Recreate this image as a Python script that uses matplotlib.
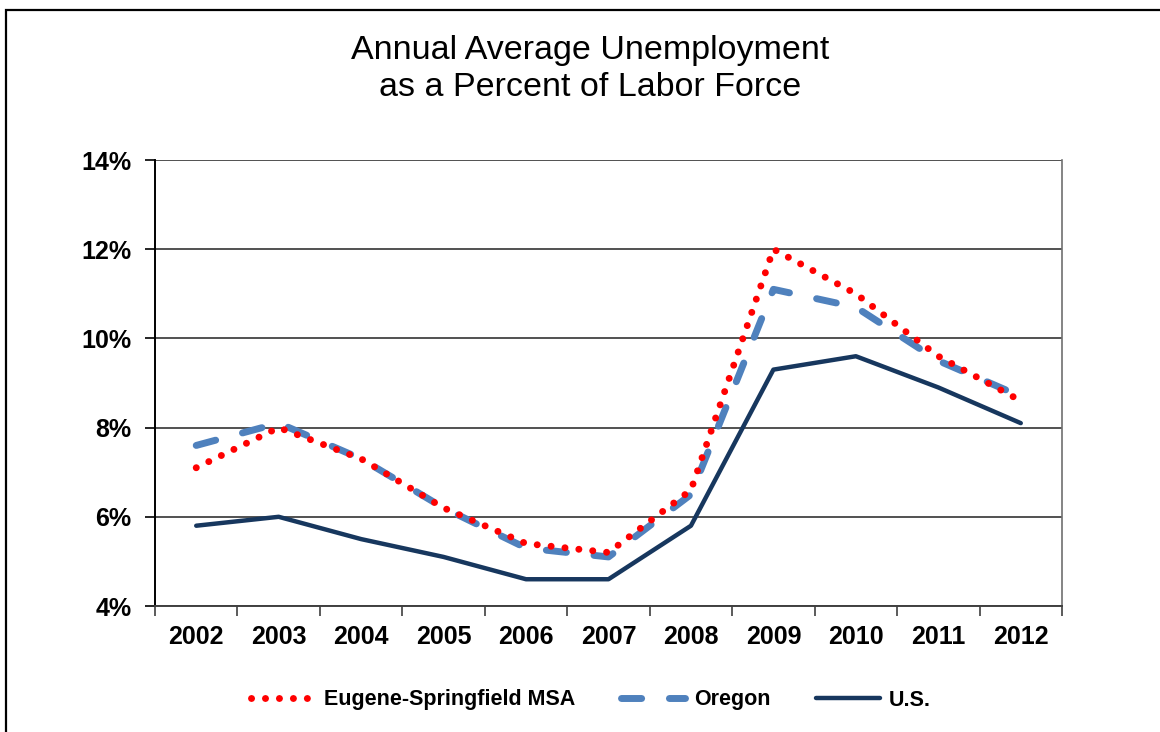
import matplotlib
matplotlib.use("Agg")
import matplotlib.pyplot as plt
from matplotlib.ticker import FixedLocator, NullFormatter, FixedFormatter
from matplotlib.patches import Rectangle

years = ["2002", "2003", "2004", "2005", "2006", "2007", "2008", "2009", "2010", "2011", "2012"]
eugene = [7.1, 8.0, 7.3, 6.2, 5.4, 5.2, 6.6, 12.0, 11.0, 9.6, 8.6]
oregon = [7.6, 8.1, 7.3, 6.2, 5.3, 5.1, 6.5, 11.1, 10.7, 9.5, 8.7]
us = [5.8, 6.0, 5.5, 5.1, 4.6, 4.6, 5.8, 9.3, 9.6, 8.9, 8.1]
yticks = [4, 6, 8, 10, 12, 14]

plt.rcParams['font.family'] = ['Liberation Sans', 'DejaVu Sans']

fig = plt.figure(figsize=(11.6, 7.32), dpi=100)
# outer chart border (only left & top visible in reference)
fig.patches.append(Rectangle((6/1160, -0.1), 1.2, 1 - 10/732 + 0.1, transform=fig.transFigure,
                             fill=False, edgecolor='black', linewidth=1.6))

ax = fig.add_axes([155/1160, 1 - 606/732, (1062 - 155)/1160, (606 - 160)/732])
x = list(range(len(years)))

l_us, = ax.plot(x, us, color='#17375E', linewidth=3.2, solid_capstyle='round',
                solid_joinstyle='round', zorder=3, label='U.S.')
l_or, = ax.plot(x, oregon, color='#4F81BD', linewidth=5.0, dashes=(2.9, 4.0),
                dash_capstyle='round', zorder=4, label='Oregon')
l_eu, = ax.plot(x, eugene, color='#FF0000', linewidth=5.0, dashes=(0.01, 2.0),
                dash_capstyle='round', zorder=5, label='Eugene-Springfield MSA')

ax.set_xlim(-0.5, len(years) - 0.5)
ax.set_ylim(4, 14)
ax.xaxis.set_major_locator(FixedLocator([i - 0.5 for i in range(len(years) + 1)]))
ax.xaxis.set_major_formatter(NullFormatter())
ax.xaxis.set_minor_locator(FixedLocator(x))
ax.xaxis.set_minor_formatter(FixedFormatter(years))
ax.tick_params(axis='x', which='major', direction='out', length=7, width=1.2, color='#404040')
ax.tick_params(axis='x', which='minor', length=0, pad=14, labelsize=18)
for t in ax.get_xticklabels(minor=True):
    t.set_fontweight('bold')

ax.set_yticks(yticks)
ax.set_yticklabels([f"{v}%" for v in yticks], fontsize=18, fontweight='bold')
ax.tick_params(axis='y', direction='out', length=7, width=1.2, color='black', pad=10)

ax.grid(axis='y', color='#333333', linewidth=1.2, zorder=1)
ax.set_axisbelow(True)
ax.spines['top'].set_visible(False)
ax.spines['right'].set_color('#707070')
ax.spines['right'].set_linewidth(1.2)
ax.spines['left'].set_color('black')
ax.spines['left'].set_linewidth(1.4)
ax.spines['bottom'].set_color('#404040')
ax.spines['bottom'].set_linewidth(1.4)

fig.text(590/1160, 1 - 69/732, "Annual Average Unemployment\nas a Percent of Labor Force",
         ha='center', va='center', fontsize=24.5, linespacing=1.22)

leg = fig.legend(handles=[l_eu, l_or, l_us], loc='center', bbox_to_anchor=(591/1160, 1 - 700/732),
                 ncol=3, frameon=False, handlelength=3.0, handletextpad=0.4,
                 columnspacing=2.1, prop={'weight': 'bold', 'size': 15.5})

fig.savefig("out.png", dpi=100)
